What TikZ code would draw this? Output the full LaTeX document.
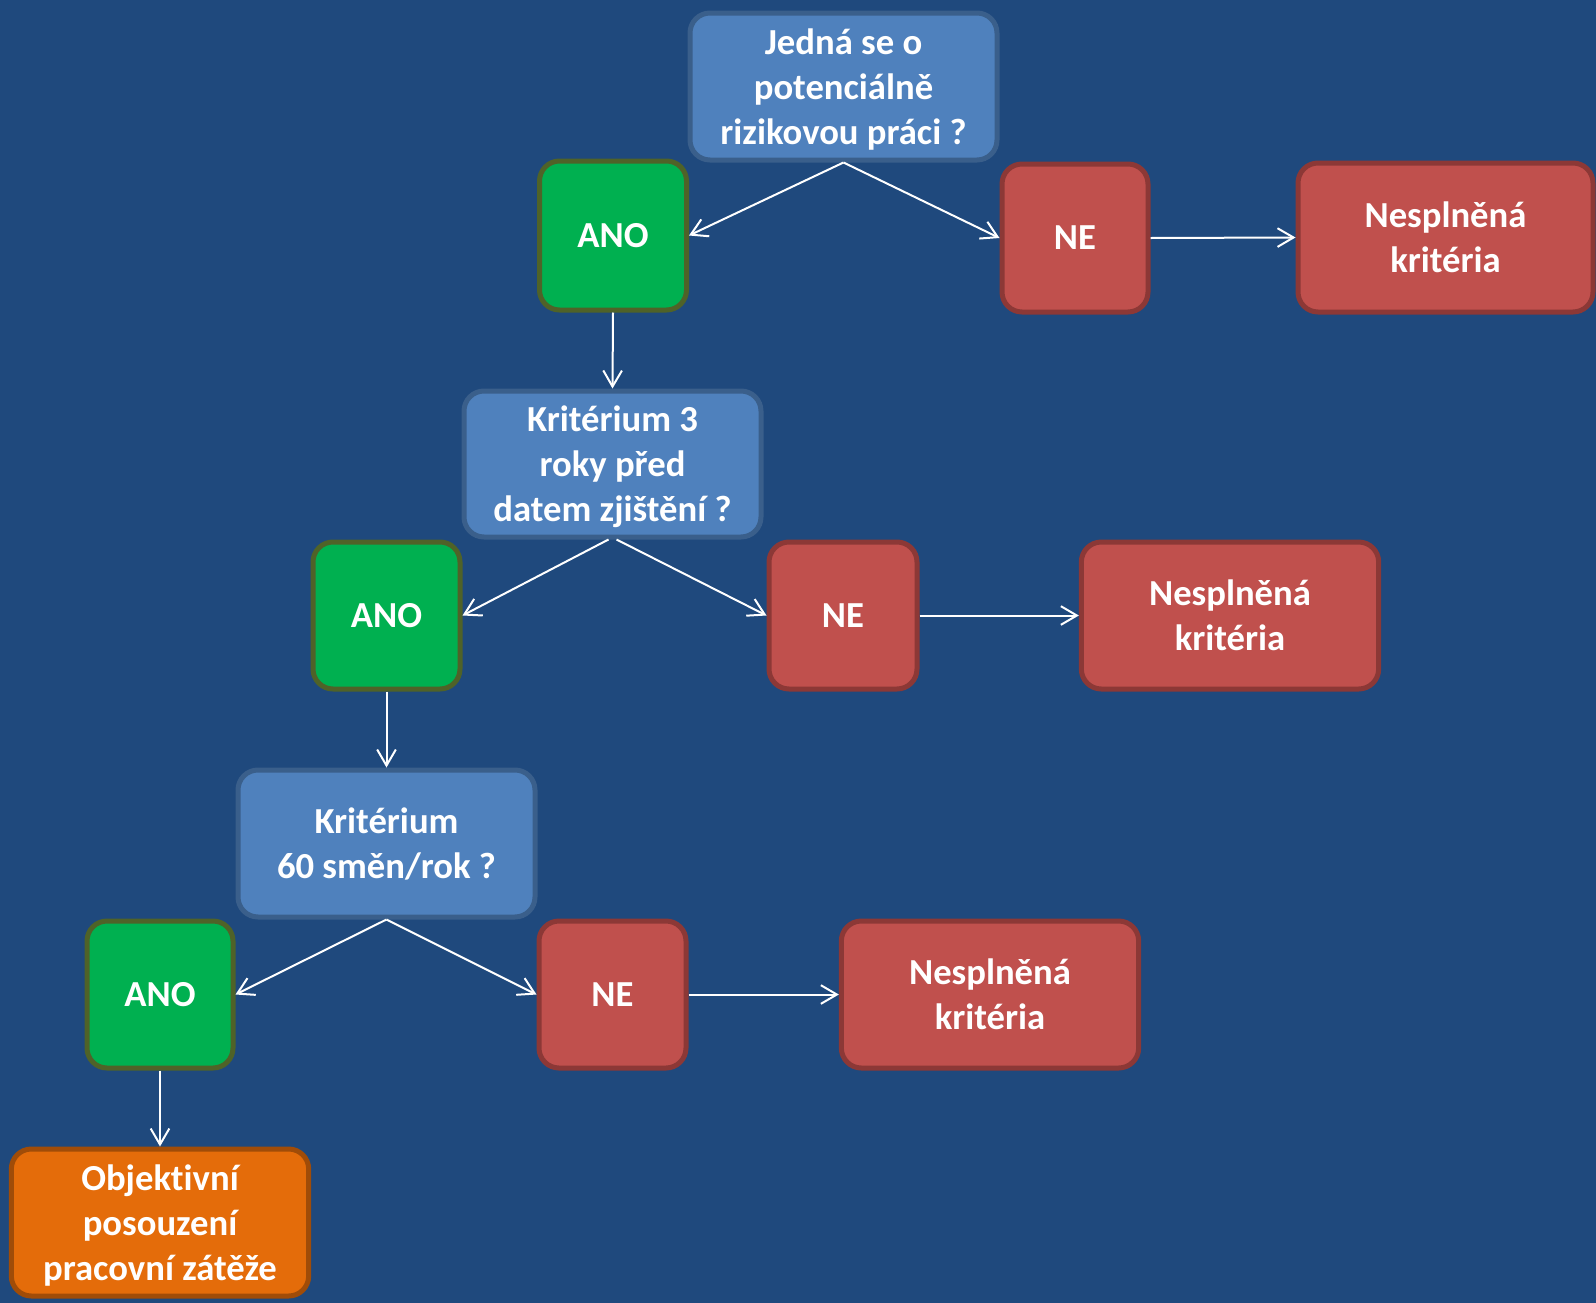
\documentclass[tikz,border=0pt]{standalone}
\usepackage{fontspec}
\setmainfont{Carlito}[Ligatures=NoCommon]
\usetikzlibrary{arrows.meta,calc}
\definecolor{bgblue}{HTML}{1F497D}
\definecolor{qfill}{HTML}{4F81BD}
\definecolor{qline}{HTML}{3A5F8B}
\definecolor{gfill}{HTML}{00B050}
\definecolor{gline}{HTML}{4F6228}
\definecolor{rfill}{HTML}{C0504D}
\definecolor{rline}{HTML}{8C3836}
\definecolor{ofill}{HTML}{E46C0A}
\definecolor{oline}{HTML}{A04C08}
\tikzset{
  box/.style={rectangle, rounded corners=15pt, line width=3.75pt, inner sep=0pt,
    text=white, align=center, text depth=0pt, font=\fontsize{27.5}{33.75}\selectfont\bfseries},
  qbox/.style={box, fill=qfill, draw=qline},
  gbox/.style={box, fill=gfill, draw=gline},
  rbox/.style={box, fill=rfill, draw=rline},
  obox/.style={box, fill=ofill, draw=oline},
  wide/.style={minimum width=223pt, minimum height=110.25pt},
  sq/.style={minimum width=110.25pt, minimum height=110.25pt},
  conn/.style={draw=white, line width=1.5pt, -{Straight Barb[length=12pt,width=14pt]}}
}
\begin{document}
\begin{tikzpicture}[x=0.75pt,y=-0.75pt]
\fill[bgblue] (0,0) rectangle (1596,1303);
\useasboundingbox (0,0) rectangle (1596,1303);
% row 1
\node[qbox, minimum width=230.25pt, minimum height=110.25pt] (q1) at (843.5,86.5) {Jedná se o\\potenciálně\\rizikovou práci ?};
\node[gbox, sq, minimum height=111.75pt] (a1) at (613,235.5) {ANO};
\node[rbox, sq, minimum width=109.5pt, minimum height=111pt] (n1) at (1075,238) {NE};
\node[rbox, wide, minimum width=221.25pt, minimum height=111.75pt] (k1) at (1445.5,237.5) {Nesplněná\\kritéria};
% row 2
\node[qbox, wide, minimum width=222.75pt, minimum height=109.5pt] (q2) at (612.5,464) {Kritérium 3\\roky před\\datem zjištění ?};
\node[gbox, sq] (a2) at (386.5,615.5) {ANO};
\node[rbox, sq, minimum width=111pt] (n2) at (843,615.5) {NE};
\node[rbox, wide] (k2) at (1230,615.5) {Nesplněná\\kritéria};
% row 3
\node[qbox, wide, minimum width=222.75pt] (q3) at (386.5,843.5) {Kritérium\\60 směn/rok ?};
\node[gbox, sq, minimum width=109.5pt] (a3) at (160,994.5) {ANO};
\node[rbox, sq] (n3) at (612.5,994.5) {NE};
\node[rbox, wide] (k3) at (990,994.5) {Nesplněná\\kritéria};
% row 4
\node[obox, wide] (res) at (160,1222.5) {Objektivní\\posouzení\\pracovní zátěže};
% connectors
\draw[conn] (q1.south) -- (a1.east);
\draw[conn] (q1.south) -- (n1.west);
\draw[conn] (n1.east) -- (k1.west);
\draw[conn] (a1.south) -- (q2.north);
\draw[conn] ($(q2.south)+(-4,0)$) -- (a2.east);
\draw[conn] ($(q2.south)+(4,0)$) -- (n2.west);
\draw[conn] (n2.east) -- (k2.west);
\draw[conn] (a2.south) -- (q3.north);
\draw[conn] (q3.south) -- (a3.east);
\draw[conn] (q3.south) -- (n3.west);
\draw[conn] (n3.east) -- (k3.west);
\draw[conn] (a3.south) -- (res.north);
\end{tikzpicture}
\end{document}
